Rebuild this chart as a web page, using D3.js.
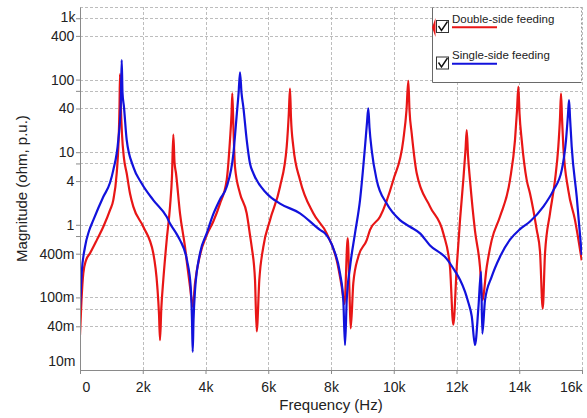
<!DOCTYPE html>
<html>
<head>
<meta charset="utf-8">
<script src="https://d3js.org/d3.v7.min.js"></script>
<style>
  body { margin: 0; background: #fff; }
  svg { display: block; font-family: 'Liberation Sans', Arial, sans-serif; }
  .grid line { stroke: #bdbdbd; stroke-dasharray: 3,2; }
  .axis path, .axis line { stroke: #8a8a8a; }
  .axis text, .end-label { fill: #222; font-size: 14px; }
</style>
</head>
<body>
<div id="chart"></div>
<script>
var redFreq = [0, 48, 105, 191, 319, 542, 743, 956, 1061, 1170, 1227, 1259, 1275, 1297, 1339, 1402, 1488, 1594, 1699, 2018,
  2336, 2464, 2518, 2550, 2591, 2655, 2763, 2869, 2932, 2974, 3012, 3060, 3187, 3347, 3411, 3506, 3592, 3666, 3825, 4038,
  4248, 4462, 4676, 4781, 4830, 4854, 4890, 4940, 5100, 5313, 5418, 5473, 5578, 5632, 5715, 5842, 6056, 6375, 6588, 6655,
  6693, 6725, 6799, 7012, 7436, 7863, 8182, 8341, 8430, 8533, 8590, 8628, 8711, 8870, 9138, 9244, 9562, 9986, 10305, 10406,
  10464, 10502, 10572, 10732, 11156, 11580, 11793, 11898, 12007, 12112, 12217, 12287, 12326, 12367, 12430, 12590, 12749, 12823, 12963, 13122,
  13387, 13705, 13865, 13929, 13971, 14009, 14078, 14237, 14343, 14557, 14662, 14748, 14821, 14980, 15140, 15245, 15299, 15331, 15363, 15405,
  15564, 15777, 15991];
var redMag = [0.0305, 0.092, 0.215, 0.324, 0.405, 0.625, 0.94, 1.59, 2.19, 5.13, 13.3, 41.9, 119, 49.8, 17.5, 8.2, 5.13, 2.7, 1.78, 0.94,
  0.405, 0.141, 0.059, 0.0258, 0.07, 0.174, 0.615, 1.78, 4.69, 17.5, 7.3, 5.13, 1.44, 0.495, 0.292, 0.141, 0.0745, 0.157, 0.385, 0.724,
  1.11, 1.96, 4.15, 14.8, 33.8, 64.7, 21.7, 6.28, 2.7, 1.44, 0.724, 0.495, 0.174, 0.034, 0.174, 0.495, 1.16, 3.34, 11.9, 33.8,
  75.4, 29.8, 11.9, 4.15, 1.44, 0.762, 0.324, 0.141, 0.081, 0.655, 0.114, 0.0374, 0.157, 0.364, 0.615, 0.851, 1.29, 4.15, 14.8, 37.8,
  96.2, 37.8, 18.2, 5.13, 1.78, 0.762, 0.262, 0.042, 0.262, 1.16, 4.15, 10.8, 20.2, 9.06, 4.15, 0.822, 0.262, 0.092, 0.262, 0.615,
  1.3, 4.15, 14.8, 37.8, 80.1, 33.8, 14.8, 4.15, 2.7, 0.851, 0.426, 0.07, 0.405, 1.44, 4.15, 11.9, 29.8, 64.7, 29.8, 11.9,
  2.98, 1.16, 0.324];

var blueFreq = [0, 54, 159, 287, 424, 743, 956, 1061, 1221, 1297, 1329, 1355, 1402, 1488, 1699, 1967, 2336, 2763, 2869, 3082,
  3187, 3411, 3528, 3570, 3592, 3618, 3666, 3825, 4038, 4248, 4462, 4676, 4890, 4998, 5055, 5100, 5148, 5206, 5313, 5418,
  5525, 5951, 6375, 7012, 7649, 7808, 8074, 8287, 8392, 8447, 8501, 8606, 8765, 8925, 9084, 9148, 9189, 9227, 9297, 9456,
  9775, 10199, 10518, 10837, 11156, 11688, 11952, 12112, 12271, 12377, 12486, 12590, 12696, 12782, 12823, 12909, 13122, 13387, 13705, 14024,
  14343, 14767, 15086, 15354, 15491, 15555, 15587, 15619, 15672, 15832, 15991];
var blueMag = [0.07, 0.215, 0.495, 0.822, 1.16, 2.43, 3.79, 5.66, 14.8, 41.9, 186, 65.5, 41.9, 14.8, 6.28, 3.71, 2.19, 1.29, 1.045, 0.743,
  0.615, 0.324, 0.141, 0.0477, 0.0178, 0.0477, 0.125, 0.405, 0.762, 1.4, 2.24, 3.34, 9.66, 33.8, 65.5, 126, 65.5, 41.9, 14.8, 6.98,
  5.13, 2.7, 1.96, 1.44, 0.851, 0.762, 0.475, 0.215, 0.092, 0.0221, 0.092, 0.262, 0.762, 2.19, 11.9, 25.8, 40.3, 21.7, 10.7, 4.15,
  1.96, 1.16, 0.94, 0.762, 0.52, 0.34, 0.23, 0.175, 0.12, 0.085, 0.055, 0.0221, 0.07, 0.226, 0.0317, 0.092, 0.193, 0.364, 0.625, 0.871,
  1.11, 1.78, 2.98, 5.66, 14.8, 33.8, 52.1, 29.8, 11.9, 2.43, 0.385];

var xTicks = [0, 2000, 4000, 6000, 8000, 10000, 12000, 14000, 16000];
var yTicks = [700, 400, 100, 70, 40, 10, 7, 4, 1, 0.7, 0.4, 0.1, 0.07, 0.04];
var yLabels = ['', '400', '100', '', '40', '10', '', '4', '1', '', '400m', '100m', '', '40m'];
var yEnds = [1000, 0.01];
var yEndLabels = ['1k', '10m'];

var seriesNames = ['Double-side feeding', 'Single-side feeding'];
var seriesColors = ['#e81616', '#1212dc'];

var width = 587;
var height = 418;
var plotLeft = 80, plotRight = 582, plotTop = 7, plotBottom = 370;

var xScale = d3.scaleLinear().domain([0, 16000]).range([plotLeft, plotRight]);
var yScale = d3.scaleLog().domain([0.01, 1000]).range([plotBottom, plotTop]);

var svg = d3.select('#chart').append('svg')
  .attr('width', width)
  .attr('height', height);

// Dashed grid.
var grid = svg.append('g').attr('class', 'grid');
grid.selectAll('.h').data(yTicks.concat([1000])).enter().append('line')
  .attr('x1', plotLeft).attr('x2', plotRight)
  .attr('y1', function(d) { return Math.round(yScale(d)) + 0.5; })
  .attr('y2', function(d) { return Math.round(yScale(d)) + 0.5; });
grid.selectAll('.v').data(xTicks.slice(1)).enter().append('line')
  .attr('y1', plotTop).attr('y2', plotBottom)
  .attr('x1', function(d) { return Math.round(xScale(d)) + 0.5; })
  .attr('x2', function(d) { return Math.round(xScale(d)) + 0.5; });

svg.append('defs').append('clipPath')
  .attr('id', 'plot-clip')
  .append('rect')
  .attr('x', plotLeft).attr('y', plotTop)
  .attr('width', plotRight - plotLeft).attr('height', plotBottom - plotTop);

var line = d3.line()
  .curve(d3.curveMonotoneX)
  .x(function(d) { return xScale(d[0]); })
  .y(function(d) { return yScale(d[1]); });

var series = [d3.zip(redFreq, redMag), d3.zip(blueFreq, blueMag)];

svg.append('g')
  .attr('clip-path', 'url(#plot-clip)')
  .selectAll('path')
  .data(series)
  .enter().append('path')
  .attr('fill', 'none')
  .attr('stroke', function(d, i) { return seriesColors[i]; })
  .attr('stroke-width', 2.2)
  .attr('stroke-linejoin', 'round')
  .attr('d', line);

// Axes.
var xAxis = d3.axisBottom(xScale)
  .tickValues(xTicks)
  .tickSize(4)
  .tickSizeOuter(0)
  .tickFormat(function(d) { return d === 0 ? '0' : (d / 1000) + 'k'; });

var gx = svg.append('g')
  .attr('class', 'x axis')
  .attr('transform', 'translate(0,' + plotBottom + ')')
  .call(xAxis);
gx.selectAll('text').attr('dy', '1.05em');
gx.selectAll('.tick text')
  .attr('text-anchor', function(d) { return d === 0 ? 'start' : (d === 16000 ? 'end' : 'middle'); })
  .attr('dx', function(d) { return d === 0 ? '0.15em' : 0; });

var yAxis = d3.axisLeft(yScale)
  .tickValues(yTicks)
  .tickSize(4)
  .tickSizeOuter(0)
  .tickFormat(function(d, i) { return yLabels[i]; });

var gy = svg.append('g')
  .attr('class', 'y axis')
  .attr('transform', 'translate(' + plotLeft + ',0)')
  .call(yAxis);
gy.selectAll('text').attr('dx', '0.1em');

// The end labels sit just inside the plot, as in the original.
svg.selectAll('.end-label')
  .data(yEnds)
  .enter().append('text')
  .attr('class', 'end-label')
  .attr('text-anchor', 'end')
  .attr('x', plotLeft - 4.6)
  .attr('y', function(d, i) { return yScale(d) + (i === 0 ? 10.3 : -8.3); })
  .attr('dy', '0.32em')
  .text(function(d, i) { return yEndLabels[i]; });

svg.append('text')
  .attr('text-anchor', 'middle')
  .attr('x', (plotLeft + plotRight) / 2)
  .attr('y', 410)
  .style('font-size', '15px')
  .attr('fill', '#222')
  .text('Frequency (Hz)');

svg.append('text')
  .attr('text-anchor', 'middle')
  .attr('transform', 'translate(27,' + ((plotTop + plotBottom) / 2) + ') rotate(-90)')
  .style('font-size', '15px')
  .attr('fill', '#222')
  .text('Magnitude (ohm, p.u.)');

// Legend.
var legend = svg.append('g');
legend.append('rect')
  .attr('x', 432.5).attr('y', 7.5)
  .attr('width', 149).attr('height', 75)
  .attr('fill', '#fff');
legend.append('path')
  .attr('d', 'M432.5,7.5V82.5H581.5')
  .attr('fill', 'none')
  .attr('stroke', '#6a6a6a');
legend.append('path')
  .attr('d', 'M432.5,7.5H581.5V82.5')
  .attr('fill', 'none')
  .attr('stroke', '#9a9a9a')
  .attr('stroke-dasharray', '2,2');
legend.append('path')
  .attr('d', 'M435.5,18L432,27.5L435.5,37Z')
  .attr('fill', seriesColors[0]);

var item = legend.selectAll('.item')
  .data(seriesNames)
  .enter().append('g')
  .attr('transform', function(d, i) { return 'translate(0,' + (i * 36.5) + ')'; });

item.append('rect')
  .attr('x', 436.5).attr('y', 20.5)
  .attr('width', 12).attr('height', 12)
  .attr('fill', '#fff')
  .attr('stroke', '#333');
item.append('path')
  .attr('d', 'M438.5,26L441.5,30.5L447.5,21.5')
  .attr('fill', 'none')
  .attr('stroke', '#111')
  .attr('stroke-width', 1.4);
item.append('text')
  .attr('x', 452).attr('y', 22.5)
  .style('font-size', '11.5px')
  .attr('fill', '#222')
  .text(function(d) { return d; });
item.append('line')
  .attr('x1', 452).attr('x2', 497)
  .attr('y1', 27.3).attr('y2', 27.3)
  .attr('stroke', function(d, i) { return seriesColors[i]; })
  .attr('stroke-width', 2);
</script>
</body>
</html>
